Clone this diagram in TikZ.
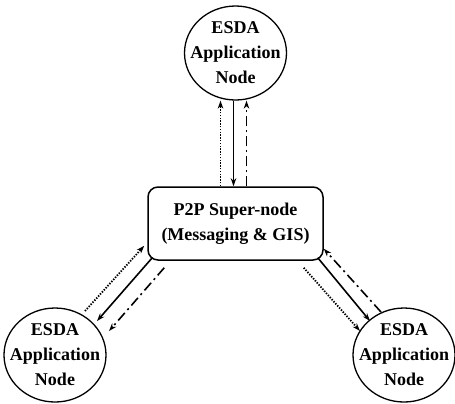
\documentclass[tikz,border=0pt]{standalone}
\usepackage{fontspec}
\setmainfont{Liberation Serif}
\usetikzlibrary{positioning,shapes.geometric,arrows.meta}

\begin{document}
\begin{tikzpicture}[x=1bp,y=1bp,on grid]
          \tikzset{>={Stealth[length=8bp,width=5.5bp]}}
          \tikzset{EdgeStyle/.style = {->,line width=1.6bp}}
          \tikzset{DotEdge/.style = {EdgeStyle,line width=1.8bp,dash pattern=on 1.4bp off 1.4bp}}
          \tikzset{DashDotEdge/.style = {EdgeStyle,dash pattern=on 10bp off 4bp on 2bp off 4bp}}
          \tikzset{AppStyle/.style = {ellipse,draw,line width=1.3bp,minimum width=102bp,
              minimum height=94bp,inner xsep=-12bp,inner ysep=-4bp,align=center,
              font=\bfseries\fontsize{18bp}{25bp}\selectfont}}
          \tikzset{SuperStyle/.style = {AppStyle,rectangle,rounded corners=10bp,inner sep=0pt,
              line width=1.5bp,minimum width=175bp,minimum height=73bp}}

          \useasboundingbox (0,0) rectangle (455,-403);

          \node[SuperStyle] (super) at (235.5,-223.5) {P2P Super-node\\(Messaging \& GIS)};
          \node[AppStyle,above=170.5bp of super] (top) {ESDA\\Application\\Node};
          \node[AppStyle,below left=131.5bp and 180.5bp of super] (left) {ESDA\\Application\\Node};
          \node[AppStyle,below right=131.5bp and 168.5bp of super] (right) {ESDA\\Application\\Node};

          \draw[DotEdge] ([xshift=-15bp]super.north) -- ([xshift=-15bp]top.south);
          \draw[EdgeStyle] ([xshift=-2bp]top.south) -- ([xshift=-2bp]super.north);
          \draw[DashDotEdge] ([xshift=11bp]super.north) -- ([xshift=11bp]top.south);

          \draw[DotEdge] ([shift={(30bp,44bp)}]left.center) -- ([shift={(-3bp,15bp)}]super.south west);
          \draw[EdgeStyle] ([shift={(5bp,3bp)}]super.south west) -- ([shift={(42bp,34bp)}]left.center);
          \draw[DashDotEdge] ([shift={(17bp,-7bp)}]super.south west) -- ([shift={(54bp,24bp)}]left.center);

          \draw[DotEdge] ([shift={(-20bp,-7bp)}]super.south east) -- ([shift={(-44bp,24bp)}]right.center);
          \draw[EdgeStyle] ([shift={(-6bp,3bp)}]super.south east) -- ([shift={(-34bp,34bp)}]right.center);
          \draw[DashDotEdge] ([shift={(-23bp,43bp)}]right.center) -- ([shift={(0bp,12bp)}]super.south east);
\end{tikzpicture}
\end{document}
